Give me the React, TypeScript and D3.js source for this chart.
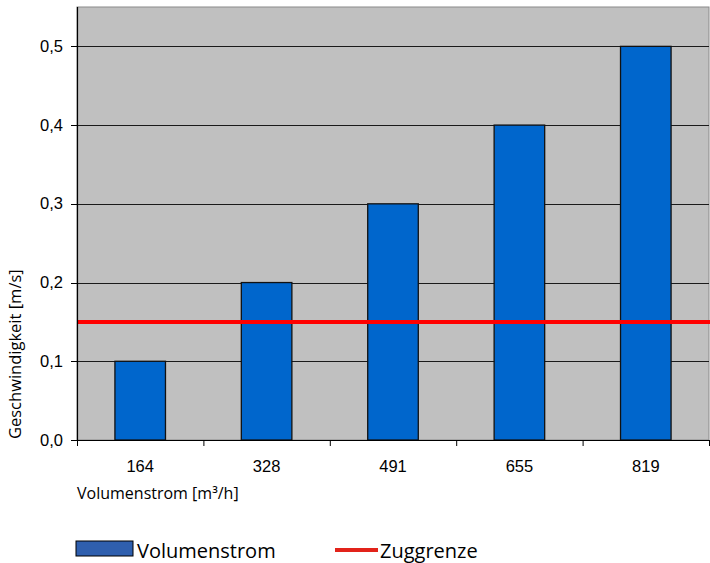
import React from "react";
import * as d3 from "d3";

const categories = ["164", "328", "491", "655", "819"];
const velocities = [0.1, 0.2, 0.3, 0.4, 0.5];
const limitValue = 0.15;
const yTicks = [0, 0.1, 0.2, 0.3, 0.4, 0.5];

export default function App() {
  const W = 710, H = 563;
  const left = 77, right = 709, top = 7, bottom = 440;
  const x = d3.scaleBand<string>().domain(categories).range([left, right]).paddingInner(0.6).paddingOuter(0.3);
  const xb = d3.scaleBand<string>().domain(categories).range([left, right]);
  const y = d3.scaleLinear().domain([0, 0.55]).range([bottom, top]);
  const fmt = (v: number) => v.toFixed(1).replace(".", ",");
  return (
    <svg width={W} height={H} style={{ position: "absolute", left: 0, top: 0 }}>
      <rect x={left} y={top} width={right - left} height={bottom - top} fill="#c0c0c0" stroke="#8a8a8a" strokeWidth={1} />
      {yTicks.filter(t => t > 0).map(t => (
        <line key={t} x1={left} x2={right} y1={Math.round(y(t)) + 0.5} y2={Math.round(y(t)) + 0.5} stroke="#1a1a1a" strokeWidth={1} />
      ))}
      {categories.map((c, i) => (
        <rect key={c} x={x(c)!} y={y(velocities[i])} width={x.bandwidth()} height={bottom - y(velocities[i])} fill="#0066cc" stroke="#111" strokeWidth={1.3} />
      ))}
      <line x1={left} x2={W} y1={y(limitValue)} y2={y(limitValue)} stroke="#ff0000" strokeWidth={4} />
      <line x1={left + 0.5} x2={left + 0.5} y1={top} y2={bottom} stroke="#000" strokeWidth={1.2} />
      <line x1={left} x2={right} y1={bottom + 0.5} y2={bottom + 0.5} stroke="#000" strokeWidth={1} />
      {yTicks.map(t => (
        <g key={t}>
          <line x1={71} x2={left} y1={Math.round(y(t)) + 0.5} y2={Math.round(y(t)) + 0.5} stroke="#000" />
          <text x={63} y={y(t) + 5.5} textAnchor="end" fontFamily="Liberation Sans, Arial, sans-serif" fontSize={16.5} fill="#000">{fmt(t)}</text>
        </g>
      ))}
      {categories.map((c, i) => (
        <g key={c}>
          <line x1={xb(c)! + 0.5} x2={xb(c)! + 0.5} y1={bottom} y2={bottom + 6} stroke="#000" />
          <text x={xb(c)! + xb.bandwidth() / 2} y={472} textAnchor="middle" fontFamily="Liberation Sans, Arial, sans-serif" fontSize={16.5} fill="#000">{c}</text>
        </g>
      ))}
      <line x1={right + 0.5} x2={right + 0.5} y1={bottom} y2={bottom + 6} stroke="#000" />
      <text x={77} y={499} fontFamily="Open Sans, sans-serif" fontSize={16} fill="#000">Volumenstrom [m³/h]</text>
      <text transform="translate(21,439) rotate(-90)" textAnchor="start" fontFamily="Open Sans, sans-serif" fontSize={16.5} fill="#000">Geschwindigkeit [m/s]</text>
      <rect x={76} y={541} width={57} height={15} fill="#2f5fae" stroke="#000" strokeWidth={1} />
      <text x={137} y={557.5} fontFamily="Open Sans, sans-serif" fontSize={20} fill="#000">Volumenstrom</text>
      <line x1={335} x2={378} y1={550} y2={550} stroke="#e2231a" strokeWidth={4} />
      <text x={380} y={557.5} fontFamily="Open Sans, sans-serif" fontSize={20} fill="#000">Zuggrenze</text>
    </svg>
  );
}
